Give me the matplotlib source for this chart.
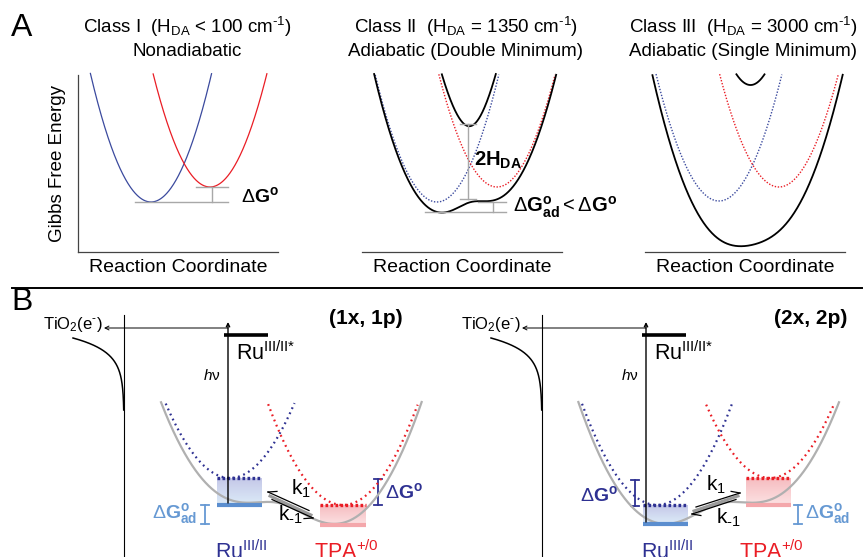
import numpy as np
import matplotlib
matplotlib.use("Agg")
from matplotlib import pyplot as plt

plt.rcParams['font.family'] = ['Liberation Sans', 'DejaVu Sans']
plt.rcParams['mathtext.fontset'] = 'custom'
plt.rcParams['mathtext.rm'] = 'Liberation Sans'
plt.rcParams['mathtext.it'] = 'Liberation Sans:italic'
plt.rcParams['mathtext.bf'] = 'Liberation Sans:bold'

HY = '\u2010'  # short hyphen, mathtext turns "-" into a long minus

# --- panel A: diabatic parabolas (min x, min y in figure pixels) -----------
classes = ["I", "II", "III"]
donor_min_x = [151, 437, 719]
donor_min_y = [202, 202, 201]
acceptor_min_x = [210, 497, 779]
acceptor_min_y = [187, 187, 187]
curvature_A = [0.035, 0.0333, 0.032]
coupling_A = [0, 38, 80]          # H_DA, drawn as half the splitting
titles_line1 = [r'Class I  (H$_{\mathregular{DA}}$ < 100 cm$^{\mathregular{%s1}}$)' % HY,
                r'Class II  (H$_{\mathregular{DA}}$ = 1350 cm$^{\mathregular{%s1}}$)' % HY,
                r'Class III  (H$_{\mathregular{DA}}$ = 3000 cm$^{\mathregular{%s1}}$)' % HY]
titles_line2 = ["Nonadiabatic", "Adiabatic (Double Minimum)", "Adiabatic (Single Minimum)"]
title_x = [187, 466, 743]
axis_x0 = [78, 362, 645]
axis_x1 = [278, 562, 845]

# --- panel B: two schemes -------------------------------------------------
schemes = ["(1x, 1p)", "(2x, 2p)"]
scheme_label_x = [366, 811]
shift_B = [0, 418]                  # horizontal offset of the second scheme
ru_min_x = [230, 657]
ru_min_y = [478, 505]
tpa_min_x = [343, 770]
tpa_min_y = [505, 478]
ru_bottom_y = [505, 524]
tpa_bottom_y = [525, 505]
curvature_B = 0.018
coupling_B = 70
ru_box_x = [(217, 262), (643, 688)]
tpa_box_x = [(320, 366), (746, 791)]

NAVY = '#2E3192'
LBLUE = '#6699D3'
RED = '#EA1D25'
PINK = '#F4A7AB'
BLUE_A = '#3B4A9E'
GRAY = '#B0B0B0'


def diabats(x, xa, ya, xb, yb, k):
    return ya - k * (x - xa) ** 2, yb - k * (x - xb) ** 2


def adiabats(x, xa, ya, xb, yb, k, H):
    ea = k * (x - xa) ** 2 - ya
    eb = k * (x - xb) ** 2 - yb
    mid = (ea + eb) / 2
    root = np.sqrt(((ea - eb) / 2) ** 2 + H ** 2)
    return -(mid - root), -(mid + root)


def clip(y, top):
    y = y.copy()
    y[y < top] = np.nan
    return y


def ibar(ax, x, y0, y1, color, w=4, lw=1.3):
    ax.plot([x, x], [y0, y1], color=color, lw=lw)
    ax.plot([x - w, x + w], [y0, y0], color=color, lw=lw)
    ax.plot([x - w, x + w], [y1, y1], color=color, lw=lw)


def gradient_box(ax, x0, x1, y0, y1, c_top, c_bot, z=1):
    c0 = np.array(matplotlib.colors.to_rgb(c_top))
    c1 = np.array(matplotlib.colors.to_rgb(c_bot))
    t = np.linspace(0, 1, 50)[:, None]
    img = (c0 * (1 - t) + c1 * t)[:, None, :]
    ax.imshow(img, extent=[x0, x1, y1, y0], aspect='auto', zorder=z, interpolation='bilinear')


def harpoon(ax, tail, tip, side):
    tail = np.array(tail, float)
    tip = np.array(tip, float)
    d = (tail - tip) / np.linalg.norm(tail - tip)
    ax.plot([tail[0], tip[0]], [tail[1], tip[1]], color='k', lw=0.9, zorder=6)
    ang = np.deg2rad(28) * side
    rot = np.array([[np.cos(ang), -np.sin(ang)], [np.sin(ang), np.cos(ang)]])
    b = tip + rot @ d * 9
    ax.plot([tip[0], b[0]], [tip[1], b[1]], color='k', lw=0.9, zorder=6)


fig = plt.figure(figsize=(8.65, 5.57), dpi=100)
ax = fig.add_axes([0, 0, 1, 1])

# ---------------- panel A ----------------
ax.text(11, 28, "A", fontsize=23, ha='left', va='center')
ax.text(57, 163, "Gibbs Free Energy", fontsize=13.5, rotation=90, ha='center', va='center')
ax.plot([78, 78], [75, 252], color='#444444', lw=0.9)
for i in range(3):
    ax.text(title_x[i], 27, titles_line1[i], fontsize=13.5, ha='center', va='center')
    ax.text(title_x[i], 51, titles_line2[i], fontsize=13.5, ha='center', va='center')
    ax.plot([axis_x0[i], axis_x1[i]], [252, 252], color='#444444', lw=0.9)
    ax.text((axis_x0[i] + axis_x1[i]) / 2, 268, "Reaction Coordinate", fontsize=14,
            ha='center', va='center')
    x = np.linspace(axis_x0[i], axis_x1[i] + 20, 800)
    ya, yb = diabats(x, donor_min_x[i], donor_min_y[i], acceptor_min_x[i],
                     acceptor_min_y[i], curvature_A[i])
    if i == 0:
        ax.plot(x, clip(ya, 73), color=BLUE_A, lw=0.9)
        ax.plot(x, clip(yb, 73), color=RED, lw=0.9)
    else:
        ax.plot(x, clip(ya, 74), color=BLUE_A, lw=1.0, ls=(0, (1, 1.2)))
        ax.plot(x, clip(yb, 74), color=RED, lw=1.0, ls=(0, (1, 1.2)))
        lo, up = adiabats(x, donor_min_x[i], donor_min_y[i], acceptor_min_x[i],
                          acceptor_min_y[i], curvature_A[i], coupling_A[i])
        ax.plot(x, clip(lo, 74), color='k', lw=1.3)
        ax.plot(x, clip(up, 74), color='k', lw=1.3)

g = '#A8A8A8'
# class I markers
ax.plot([135, 228], [202, 202], color=g, lw=1)
ax.plot([196, 228], [187, 187], color=g, lw=1)
ax.plot([212, 212], [187, 202], color=g, lw=1)
ax.text(241, 196, r'$\mathregular{Δ}\mathbf{G}^{\mathbf{o}}$', fontsize=14, ha='left', va='center')
# class II markers
ax.plot([468, 468], [124, 199], color=g, lw=1)
ax.plot([460, 476], [124, 124], color=g, lw=1)
ax.plot([460, 476], [199, 199], color=g, lw=1)
ax.plot([478, 506], [202, 202], color=g, lw=1)
ax.plot([425, 506], [212, 212], color=g, lw=1)
ax.plot([493, 493], [202, 212], color=g, lw=1)
ax.text(474, 160, r'$\mathbf{2H}_{\mathbf{DA}}$', fontsize=14.5, ha='left', va='center')
ax.text(513, 207, r'$\mathregular{Δ}\mathbf{G}^{\mathbf{o}}_{\mathbf{ad}}\mathregular{<Δ}\mathbf{G}^{\mathbf{o}}$',
        fontsize=14.5, ha='left', va='center')

# separator
ax.plot([12, 862], [288, 288], color='k', lw=1.4)

# ---------------- panel B ----------------
ax.text(11, 302, "B", fontsize=23, ha='left', va='center')
for j in range(2):
    s = shift_B[j]
    ax.text(scheme_label_x[j], 318, schemes[j], fontsize=15, fontweight='bold', ha='center', va='center')
    # TiO2 band edge
    xv = 124 + s
    ax.plot([xv, xv], [315, 557], color='k', lw=0.8)
    yy = np.linspace(338, 410, 200)
    ax.plot(xv - 51 * np.exp(-(yy - 338) / 14), yy, color='k', lw=1.1)
    ax.text(43 + s, 324, r'TiO$_{\mathregular{2}}$(e$^{\mathregular{%s}}$)' % HY, fontsize=12,
            ha='left', va='center')
    ax.annotate('', xy=(104 + s, 328), xytext=(228 + s, 328),
                arrowprops=dict(arrowstyle='->', lw=0.7, color='k', mutation_scale=7,
                                shrinkA=0, shrinkB=0))
    # excitation
    xh = 228 + s
    ax.annotate('', xy=(xh, 322), xytext=(xh, ru_bottom_y[j] - 2),
                arrowprops=dict(arrowstyle='->', lw=1.0, color='k', mutation_scale=6,
                                shrinkA=0, shrinkB=0), zorder=5)
    ax.text(212 + s, 375, r'$\mathit{h}$ν', fontsize=11, ha='center', va='center')
    ax.plot([224 + s, 268 + s], [335, 335], color='k', lw=2.6, solid_capstyle='butt')
    ax.text(236 + s, 353, r'Ru$^{\mathregular{III/II}{*}}$', fontsize=15.5, ha='left', va='center')

    # boxes
    rx0, rx1 = ru_box_x[j]
    tx0, tx1 = tpa_box_x[j]
    gradient_box(ax, rx0, rx1, ru_min_y[j], ru_bottom_y[j], '#C5C8E8', '#DCEBF8')
    gradient_box(ax, tx0, tx1, tpa_min_y[j], tpa_bottom_y[j], '#F6BCC0', '#FCE2E3')
    ax.plot([rx0, rx1], [ru_bottom_y[j], ru_bottom_y[j]], color='#5B8ECF', lw=3, solid_capstyle='butt', zorder=4)
    ax.plot([tx0, tx1], [tpa_bottom_y[j], tpa_bottom_y[j]], color=PINK, lw=3, solid_capstyle='butt', zorder=4)
    ax.plot([rx0, rx1], [ru_min_y[j], ru_min_y[j]], color=NAVY, lw=2.4, ls=(0, (0.8, 0.7)), zorder=4)
    ax.plot([tx0, tx1], [tpa_min_y[j], tpa_min_y[j]], color=RED, lw=2.4, ls=(0, (0.8, 0.7)), zorder=4)

    # curves
    x = np.linspace(140 + s, 440 + s, 900)
    ya, yb = diabats(x, ru_min_x[j], ru_min_y[j], tpa_min_x[j], tpa_min_y[j], curvature_B)
    lo, up = adiabats(x, ru_min_x[j], ru_min_y[j], tpa_min_x[j], tpa_min_y[j], curvature_B, coupling_B)
    ax.plot(x, clip(lo, 402), color=GRAY, lw=1.6, zorder=3)
    ax.plot(x, clip(ya, 403), color=NAVY, lw=1.6, ls=(0, (0.8, 1.7)), zorder=3)
    ax.plot(x, clip(yb, 404), color=RED, lw=1.6, ls=(0, (0.8, 1.7)), zorder=3)

    ax.text((rx0 + rx1) / 2 + 2, 552, r'Ru$^{\mathregular{III/II}}$', fontsize=15.5, color=NAVY, ha='center', va='center')
    ax.text((tx0 + tx1) / 2 + 3, 552, r'TPA$^{\mathregular{+/0}}$', fontsize=15.5, color=RED, ha='center', va='center')

# left scheme: arrows, brackets
ax.plot([270, 311], [496, 515], color='#9A9A9A', lw=2.2, zorder=5)
harpoon(ax, (309, 510.5), (268, 492), -1)
harpoon(ax, (272, 499.5), (313, 518), -1)
ax.text(291, 489, r'k$_{\mathregular{1}}$', fontsize=15, ha='left', va='center')
ax.text(278, 515, r'k$_{\mathregular{%s1}}$' % HY, fontsize=15, ha='left', va='center')
ibar(ax, 378, 479, 505, NAVY)
ax.text(385, 492, r'$\mathregular{Δ}\mathbf{G}^{\mathbf{o}}$', fontsize=14, color=NAVY, ha='left', va='center')
ibar(ax, 205, 505, 524, LBLUE)
ax.text(197, 514, r'$\mathregular{Δ}\mathbf{G}^{\mathbf{o}}_{\mathbf{ad}}$', fontsize=14, color=LBLUE, ha='right', va='center')

# right scheme: arrows, brackets
ax.plot([694, 738], [511, 496], color='#9A9A9A', lw=2.2, zorder=5)
harpoon(ax, (696, 507), (740, 493), 1)
harpoon(ax, (736, 499.5), (692, 514), 1)
ax.text(706, 485, r'k$_{\mathregular{1}}$', fontsize=15, ha='left', va='center')
ax.text(716, 518, r'k$_{\mathregular{%s1}}$' % HY, fontsize=15, ha='left', va='center')
ibar(ax, 635, 480, 506, NAVY)
ax.text(618, 495, r'$\mathregular{Δ}\mathbf{G}^{\mathbf{o}}$', fontsize=14, color=NAVY, ha='right', va='center')
ibar(ax, 798, 505, 524, LBLUE)
ax.text(805, 514, r'$\mathregular{Δ}\mathbf{G}^{\mathbf{o}}_{\mathbf{ad}}$', fontsize=14, color=LBLUE, ha='left', va='center')

ax.set_xlim(0, 865)
ax.set_ylim(557, 0)
ax.axis('off')
fig.savefig("out.png", dpi=100)
